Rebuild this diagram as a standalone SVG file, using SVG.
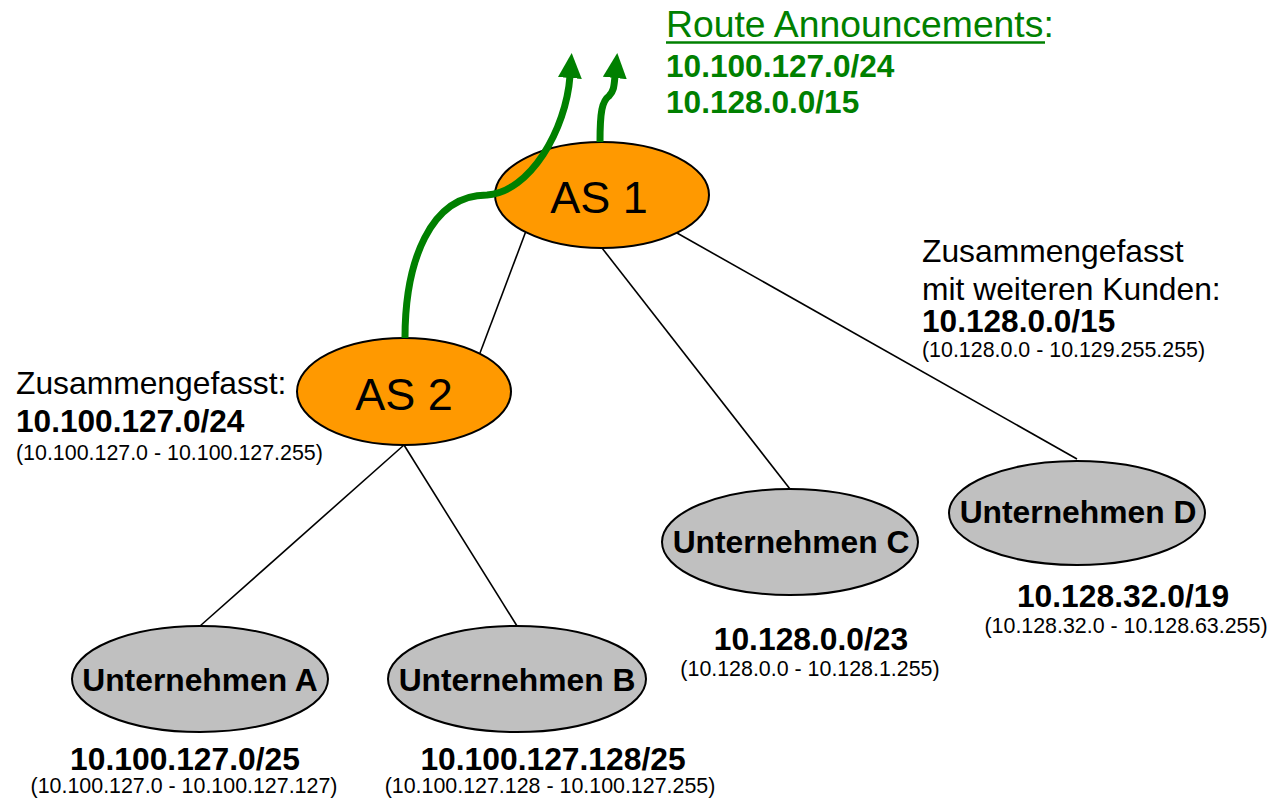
<svg xmlns="http://www.w3.org/2000/svg" width="1271" height="806" viewBox="0 0 1271 806">
  <style>
    .as { fill: #ff9900; stroke: #000; stroke-width: 2; }
    .co { fill: #c0c0c0; stroke: #000; stroke-width: 2; }
    .edge { stroke: #000; stroke-width: 1.6; fill: none; }
    .route { stroke: #008000; stroke-width: 7; fill: none; marker-end: url(#ah); }
    text { font-family: "Liberation Sans", Arial, sans-serif; fill: #000; }
    .asl { font-size: 45px; text-anchor: middle; }
    .nl { font-size: 31.8px; font-weight: bold; text-anchor: middle; }
    .pfx { font-size: 31.6px; font-weight: bold; }
    .lbl { font-size: 31.8px; }
    .rng { font-size: 21.4px; }
    .mid { text-anchor: middle; }
    .green { fill: #008000; }
  </style>
  <defs>
    <marker id="ah" markerUnits="userSpaceOnUse" markerWidth="26" markerHeight="26" refX="2" refY="12" orient="auto">
      <path d="M0,0 L25,12 L0,24 Z" fill="#008000"/>
    </marker>
  </defs>

  <rect width="1271" height="806" fill="#fff"/>

  <!-- tree links -->
  <g id="connectors">
    <line class="edge" x1="526" y1="231" x2="480" y2="353"/>
    <line class="edge" x1="602" y1="248" x2="790" y2="489"/>
    <line class="edge" x1="677" y1="233" x2="1077" y2="459"/>
    <line class="edge" x1="404" y1="445" x2="200" y2="626"/>
    <line class="edge" x1="404" y1="445" x2="517" y2="626"/>
  </g>

  <g id="as1">
    <ellipse class="as" cx="602" cy="195" rx="107" ry="53"/>
    <text class="asl" x="599" y="213">AS 1</text>
  </g>

  <g id="as2">
    <ellipse class="as" cx="404" cy="391.5" rx="107" ry="53.5"/>
    <text class="asl" x="404" y="410">AS 2</text>
  </g>

  <!-- announced routes, drawn over AS 1 -->
  <g id="announcements">
    <path class="route" d="M405,338 C405,262 430,195 487,195 C530,192 566,130 570,76"/>
    <path class="route" d="M600,142 C600,112 602,101 609,96 C614,91 614,86 615,76"/>
  </g>

  <g id="unternehmen-a">
    <ellipse class="co" cx="200" cy="679" rx="128" ry="53"/>
    <text class="nl" x="200" y="691">Unternehmen A</text>
    <text class="nl" x="185" y="770">10.100.127.0/25</text>
    <text class="rng mid" x="184" y="793">(10.100.127.0 - 10.100.127.127)</text>
  </g>

  <g id="unternehmen-b">
    <ellipse class="co" cx="517" cy="679" rx="129" ry="53"/>
    <text class="nl" x="517" y="691">Unternehmen B</text>
    <text class="nl" x="553" y="770">10.100.127.128/25</text>
    <text class="rng mid" x="550" y="793">(10.100.127.128 - 10.100.127.255)</text>
  </g>

  <g id="unternehmen-c">
    <ellipse class="co" cx="790" cy="542" rx="128" ry="53"/>
    <text class="nl" x="791" y="553">Unternehmen C</text>
    <text class="nl" x="811" y="650">10.128.0.0/23</text>
    <text class="rng mid" x="810" y="676">(10.128.0.0 - 10.128.1.255)</text>
  </g>

  <g id="unternehmen-d">
    <ellipse class="co" cx="1077" cy="513" rx="128" ry="52"/>
    <text class="nl" x="1078" y="523">Unternehmen D</text>
    <text class="nl" x="1123" y="607">10.128.32.0/19</text>
    <text class="rng mid" x="1126" y="633">(10.128.32.0 - 10.128.63.255)</text>
  </g>

  <g id="label-as2">
    <text class="lbl" x="16" y="394">Zusammengefasst:</text>
    <text class="pfx" x="16" y="432">10.100.127.0/24</text>
    <text class="rng" x="16" y="460">(10.100.127.0 - 10.100.127.255)</text>
  </g>

  <g id="label-as1">
    <text class="lbl" x="922" y="262">Zusammengefasst</text>
    <text class="lbl" x="922" y="300">mit weiteren Kunden:</text>
    <text class="pfx" x="922" y="332">10.128.0.0/15</text>
    <text class="rng" x="922" y="357">(10.128.0.0 - 10.129.255.255)</text>
  </g>

  <g id="label-routes">
    <text class="green" x="666" y="37" style="font-size:37.3px">Route Announcements:</text>
    <line x1="666" y1="42.5" x2="1045" y2="42.5" stroke="#008000" stroke-width="2.5"/>
    <text class="pfx green" x="666" y="77">10.100.127.0/24</text>
    <text class="pfx green" x="666" y="113">10.128.0.0/15</text>
  </g>
</svg>
